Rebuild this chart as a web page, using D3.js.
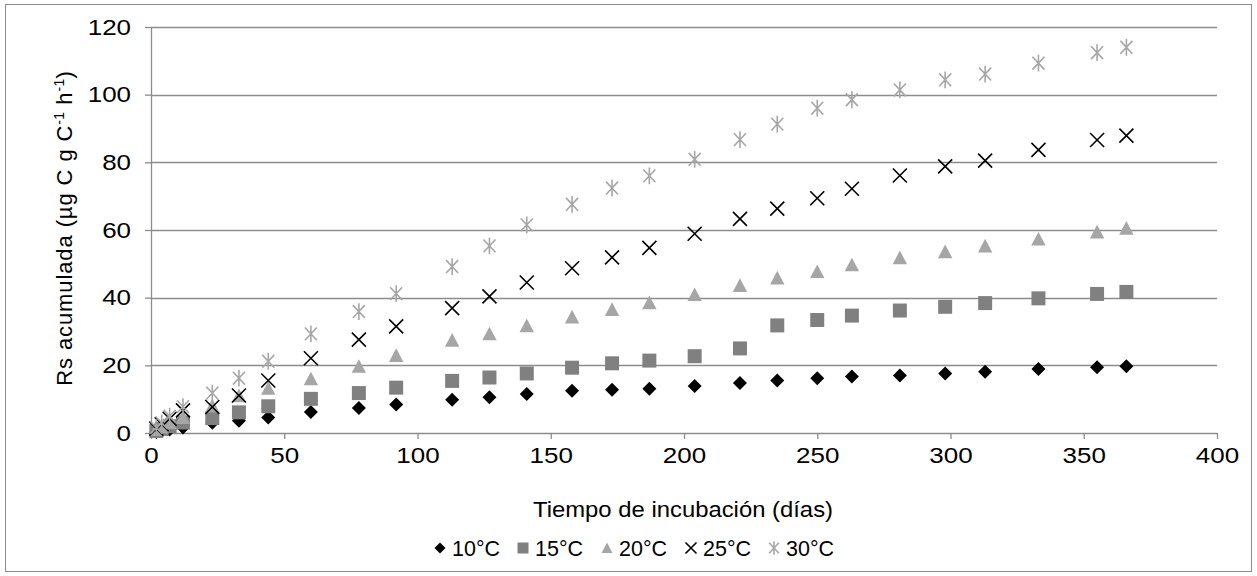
<!DOCTYPE html>
<html><head><meta charset="utf-8">
<script src="https://cdn.jsdelivr.net/npm/d3@7"></script>
<style>
html,body{margin:0;padding:0;background:#fff;}
svg{display:block;font-family:"Liberation Sans",Arial,sans-serif;}
</style></head>
<body>
<svg id="c" width="1257" height="576"></svg>
<script>
const days = [2,4,7,12,23,33,44,60,78,92,113,127,141,158,173,187,204,221,235,250,263,281,298,313,333,355,366];
const s10 = [0.3,0.6,1.0,1.6,3.0,3.6,4.6,6.2,7.4,8.4,9.8,10.6,11.5,12.5,12.8,13.1,13.9,14.8,15.5,16.2,16.7,17.0,17.6,18.1,18.9,19.4,19.7];
const s15 = [0.6,1.2,2.0,3.1,4.4,6.1,7.9,10.1,11.8,13.4,15.4,16.4,17.6,19.3,20.6,21.4,22.7,25.0,31.8,33.4,34.7,36.2,37.3,38.4,39.8,41.1,41.7];
const s20 = [1.0,1.8,3.0,4.6,8.0,11.0,13.2,16.0,19.7,22.9,27.4,29.3,31.7,34.3,36.5,38.5,40.9,43.6,45.8,47.7,49.7,51.8,53.6,55.3,57.3,59.4,60.5];
const s25 = [1.3,2.6,4.2,6.7,7.7,11.1,15.5,22.1,27.6,31.5,36.9,40.4,44.5,48.7,51.9,54.7,58.9,63.3,66.3,69.4,72.2,76.1,78.8,80.5,83.7,86.6,87.9];
const s30 = [1.6,3.0,5.0,7.8,11.8,16.2,21.2,29.3,35.9,41.2,49.2,55.3,61.5,67.6,72.4,76.0,80.9,86.7,91.3,96.0,98.5,101.4,104.4,106.1,109.3,112.4,114.0];
const seriesNames = ["10°C","15°C","20°C","25°C","30°C"];
const xTicks = [0,50,100,150,200,250,300,350,400];
const yTicks = [0,20,40,60,80,100,120];

const series = [
  {name: seriesNames[0], values: s10, shape: "diamond", color: "#000000"},
  {name: seriesNames[1], values: s15, shape: "square", color: "#808080"},
  {name: seriesNames[2], values: s20, shape: "triangle", color: "#a6a6a6"},
  {name: seriesNames[3], values: s25, shape: "x", color: "#000000"},
  {name: seriesNames[4], values: s30, shape: "star", color: "#a6a6a6"}
];

const svg = d3.select("#c");
const x = d3.scaleLinear().domain([0,400]).range([151,1217]);
const y = d3.scaleLinear().domain([0,120]).range([433,27]);
const gridColor = "#8c8c8c";
const FS = "22px";
const SX = 1.18;

// outer border
svg.append("rect").attr("x",5.5).attr("y",4.5).attr("width",1246).attr("height",567)
  .attr("fill","#fff").attr("stroke","#8c8c8c").attr("stroke-width",1);

// gridlines
svg.append("g").selectAll("line").data(yTicks.filter(d=>d>0)).join("line")
  .attr("x1",x(0)).attr("x2",x(400))
  .attr("y1",d=>Math.round(y(d))+0.5).attr("y2",d=>Math.round(y(d))+0.5)
  .attr("stroke",gridColor).attr("stroke-width",1.3);

// axes
const yAxis = svg.append("g").attr("transform",`translate(${x(0)},0)`)
  .call(d3.axisLeft(y).tickValues(yTicks).tickSize(6).tickPadding(14).tickSizeOuter(0));
const xAxis = svg.append("g").attr("transform",`translate(0,${y(0)})`)
  .call(d3.axisBottom(x).tickValues(xTicks).tickSize(6).tickPadding(8).tickSizeOuter(0));
[xAxis,yAxis].forEach(g=>{
  g.select(".domain").attr("stroke",gridColor).attr("stroke-width",1.3);
  g.selectAll(".tick line").attr("stroke",gridColor).attr("stroke-width",1.3);
  g.selectAll("text").attr("fill","#000").style("font-size",FS)
    .style("font-family",'"Liberation Sans",Arial,sans-serif')
    .attr("transform",`scale(${SX},1)`);
});
yAxis.selectAll(".tick text").attr("x",-20/SX);

function shapePath(shape, r){
  switch(shape){
    case "diamond": return `M0,${-r}L${r},0L0,${r}L${-r},0Z`;
    case "square": return `M${-r},${-r}H${r}V${r}H${-r}Z`;
    case "triangle": return `M0,${-r}L${r},${r*0.9}L${-r},${r*0.9}Z`;
    case "x": return `M${-r},${-r}L${r},${r}M${-r},${r}L${r},${-r}`;
    case "star": return `M${-r*0.75},${-r*0.8}L${r*0.75},${r*0.8}M${-r*0.75},${r*0.8}L${r*0.75},${-r*0.8}M0,${-r*1.05}V${r*1.05}`;
  }
}
const sizes = {diamond:7, square:7, triangle:7.2, x:7, star:8};
function styleMark(sel, s){
  if(s.shape==="x"||s.shape==="star"){
    sel.attr("fill","none").attr("stroke",s.color).attr("stroke-width",1.6);
  } else {
    sel.attr("fill",s.color).attr("stroke","none");
  }
}

// points
series.forEach(s=>{
  const g = svg.append("g");
  g.selectAll("path").data(days.map((d,i)=>({d, v:s.values[i]}))).join("path")
    .attr("transform",p=>`translate(${x(p.d)},${y(p.v)})`)
    .attr("d",shapePath(s.shape,sizes[s.shape]))
    .call(sel=>styleMark(sel,s));
});

// axis titles
svg.append("text").attr("x",683).attr("y",517).attr("text-anchor","middle")
  .style("font-size",FS).attr("textLength",300).attr("lengthAdjust","spacingAndGlyphs")
  .text("Tiempo de incubación (días)");
const yt = svg.append("text").attr("transform","translate(72,228) rotate(-90)")
  .attr("text-anchor","middle").style("font-size",FS).style("letter-spacing","0.9px");
yt.append("tspan").text("Rs acumulada (µg C g C");
yt.append("tspan").attr("dy",-8).style("font-size","14px").style("letter-spacing","0.3px").text("-1");
yt.append("tspan").attr("dy",8).text(" h");
yt.append("tspan").attr("dy",-8).style("font-size","14px").style("letter-spacing","0.3px").text("-1");
yt.append("tspan").attr("dy",8).text(")");

// legend
const legX = [440,523,607,691,774];
const leg = svg.append("g");
series.forEach((s,i)=>{
  const m = leg.append("path").attr("transform",`translate(${legX[i]},548)`)
    .attr("d",shapePath(s.shape, s.shape==="star"?6.5:5.5));
  styleMark(m,s);
  leg.append("text").attr("x",legX[i]+12).attr("y",556).style("font-size",FS)
    .attr("textLength",48).attr("lengthAdjust","spacingAndGlyphs").text(s.name);
});
</script>
</body></html>
